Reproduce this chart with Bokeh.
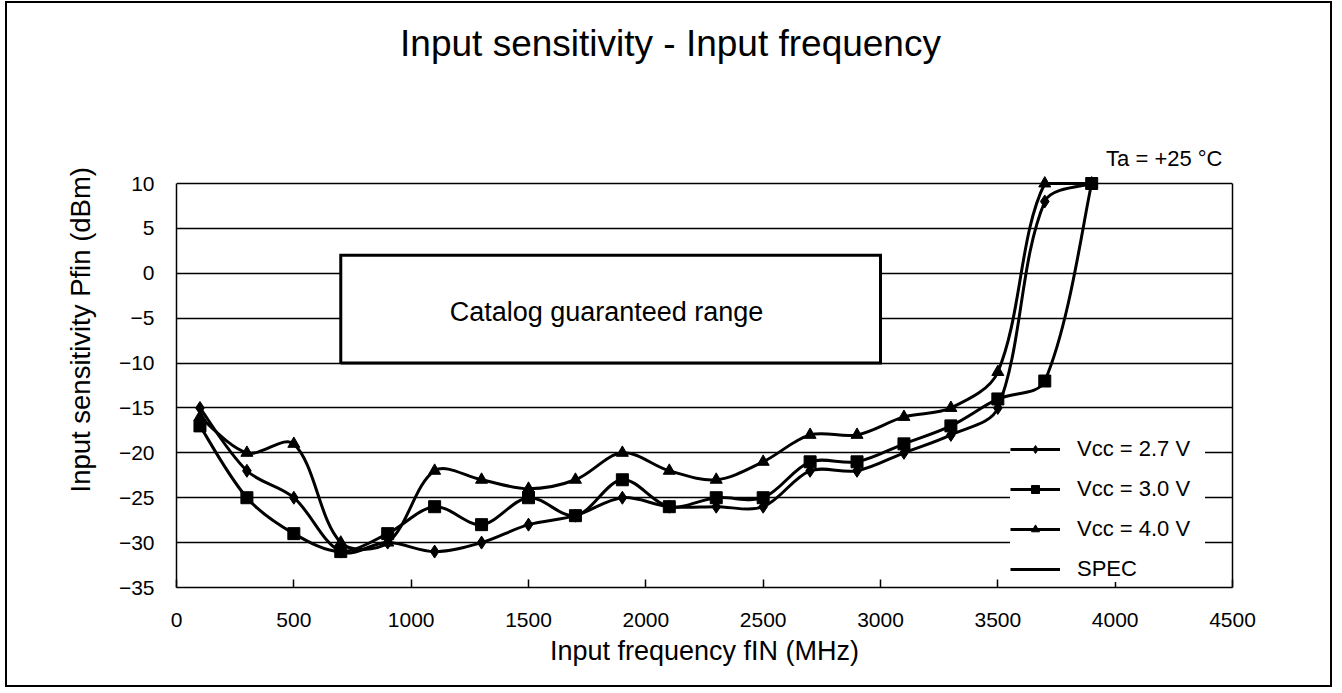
import numpy as np
from bokeh.plotting import figure
from bokeh.models import (ColumnDataSource, Label, Legend, LegendItem, FixedTicker, Range1d,
                          Title, LinearAxis)
from bokeh.embed import file_html
from bokeh.resources import INLINE

# ---------------- data ----------------
freq = [100, 300, 500, 700, 900, 1100, 1300, 1500, 1700, 1900,
        2100, 2300, 2500, 2700, 2900, 3100, 3300, 3500, 3700, 3900]
vcc27 = [-15, -22, -25, -31, -30, -31, -30, -28, -27, -25,
         -26, -26, -26, -22, -22, -20, -18, -15, 8, 10]
vcc30 = [-17, -25, -29, -31, -29, -26, -28, -25, -27, -23,
         -26, -25, -25, -21, -21, -19, -17, -14, -12, 10]
vcc40 = [-16, -20, -19, -30, -30, -22, -23, -24, -23, -20,
         -22, -23, -21, -18, -18, -16, -15, -11, 10, 10]
spec_freq = [700, 3000]
spec_pfin = [-10, 2]
x_ticks = [0, 500, 1000, 1500, 2000, 2500, 3000, 3500, 4000, 4500]
y_ticks = [-35, -30, -25, -20, -15, -10, -5, 0, 5, 10]
series_labels = ["Vcc = 2.7 V", "Vcc = 3.0 V", "Vcc = 4.0 V", "SPEC"]

FONT = "Liberation Sans"
X_MIN, X_MAX = x_ticks[0], x_ticks[-1]
Y_MIN, Y_MAX = y_ticks[0], y_ticks[-1]

# layout geometry (page pixels)
CANVAS_LEFT, CANVAS_TOP = 7, 3
PLOT_LEFT, PLOT_RIGHT = 176.0, 1232.0   # x = 0 .. 4500
PLOT_TOP, PLOT_BOTTOM = 183.0, 587.0    # y = 10 .. -35
SX = (PLOT_RIGHT - PLOT_LEFT) / (X_MAX - X_MIN)
SY = (PLOT_BOTTOM - PLOT_TOP) / (Y_MAX - Y_MIN)
# the frame reaches the canvas top so titles above the grid can be drawn as labels
Y_TOP = Y_MAX + (PLOT_TOP - CANVAS_TOP) / SY

def dx(px):
    return X_MIN + (px - PLOT_LEFT) / SX
def dy(py):
    return Y_MAX + (PLOT_TOP - py) / SY

p = figure(width=1327, height=686, output_backend="svg", toolbar_location=None,
           x_range=Range1d(X_MIN, X_MAX), y_range=Range1d(Y_MIN, Y_TOP),
           min_border_left=int(PLOT_LEFT - CANVAS_LEFT), min_border_right=102,
           min_border_top=0, min_border_bottom=102)
p.title.visible = False
p.styles = {"border": "2px solid black", "margin-left": "5px", "margin-top": "1px"}
p.background_fill_color = "white"
p.border_fill_color = "white"
p.outline_line_color = None

# axes
for ax in (p.xaxis[0], p.yaxis[0]):
    ax.axis_line_color = "black"
    ax.axis_line_width = 1.5
    ax.major_tick_line_color = "black"
    ax.major_tick_line_width = 1.5
    ax.minor_tick_line_color = None
    ax.major_label_text_font = FONT
    ax.major_label_text_font_size = "21px"
    ax.major_label_text_color = "black"
    ax.major_tick_out = 0

p.xaxis.ticker = FixedTicker(ticks=x_ticks)
p.xaxis.major_tick_in = 8
p.xaxis.major_label_standoff = 25
p.xaxis.axis_label = "Input frequency fIN (MHz)"
p.xaxis.axis_label_text_font = FONT
p.xaxis.axis_label_text_font_size = "27px"
p.xaxis.axis_label_text_font_style = "normal"
p.xaxis.axis_label_text_color = "black"
p.xaxis.axis_label_standoff = 6

p.yaxis.ticker = FixedTicker(ticks=y_ticks)
p.yaxis.bounds = (Y_MIN, Y_MAX)
p.yaxis.major_tick_in = 0
p.yaxis.major_label_standoff = 22
p.yaxis.major_label_overrides = {t: ("\u2212" + str(abs(t)) if t < 0 else str(t)) for t in y_ticks}

# right frame edge
rax = LinearAxis(bounds=(Y_MIN, Y_MAX), ticker=FixedTicker(ticks=[]),
                 axis_line_color="black", axis_line_width=1.5,
                 major_tick_line_color=None, minor_tick_line_color=None,
                 major_label_text_font_size="0px")
p.add_layout(rax, "right")

p.xgrid.grid_line_color = None
p.ygrid.ticker = FixedTicker(ticks=y_ticks)
p.ygrid.grid_line_color = "black"
p.ygrid.grid_line_width = 1.3

# spec box (white fill hides grid) + outline
p.quad(left=[spec_freq[0]], right=[spec_freq[1]], bottom=[spec_pfin[0]], top=[spec_pfin[1]],
       fill_color="white", line_color=None)
spec_x = [spec_freq[0], spec_freq[1], spec_freq[1], spec_freq[0], spec_freq[0]]
spec_y = [spec_pfin[0], spec_pfin[0], spec_pfin[1], spec_pfin[1], spec_pfin[0]]
spec_r = p.line(x=spec_x, y=spec_y, line_color="black", line_width=3, line_join="miter")


def bezier_source(xs, ys):
    """Smoothed-line control points (chart-style spline), computed in pixel space,
    kept inside the plotted value range."""
    X = np.asarray(xs, float) * SX
    Y = np.asarray(ys, float) * SY
    n = len(X)
    P = np.stack([X, Y], axis=1)
    d = np.hypot(np.diff(X), np.diff(Y))
    T = np.zeros_like(P)
    for i in range(n):
        T[i] = P[min(i + 1, n - 1)] - P[max(i - 1, 0)]
    out = dict(x0=[], y0=[], x1=[], y1=[], cx0=[], cy0=[], cx1=[], cy1=[])
    for i in range(n - 1):
        f0 = 1.0 / 6.0 if i == 0 else d[i] / (d[i - 1] + d[i]) / 3.0
        f1 = 1.0 / 6.0 if i + 1 == n - 1 else d[i] / (d[i] + d[i + 1]) / 3.0
        c0 = P[i] + T[i] * f0
        c1 = P[i + 1] - T[i + 1] * f1
        out["x0"].append(P[i][0] / SX); out["y0"].append(P[i][1] / SY)
        out["x1"].append(P[i + 1][0] / SX); out["y1"].append(P[i + 1][1] / SY)
        out["cx0"].append(c0[0] / SX); out["cy0"].append(min(max(c0[1] / SY, Y_MIN), Y_MAX))
        out["cx1"].append(c1[0] / SX); out["cy1"].append(min(max(c1[1] / SY, Y_MIN), Y_MAX))
    return ColumnDataSource(out)

items = []
markers = [("diamond", 13), ("square", 12), ("triangle", 12)]
for vals, lab, (mk, sz) in zip([vcc27, vcc30, vcc40], series_labels[:3], markers):
    br = p.bezier(x0="x0", y0="y0", x1="x1", y1="y1", cx0="cx0", cy0="cy0", cx1="cx1", cy1="cy1",
                  source=bezier_source(freq, vals), line_color="black", line_width=3)
    sr = p.scatter(x=freq, y=vals, marker=mk, size=sz,
                   fill_color="black", line_color="black")
    items.append(LegendItem(label=lab, renderers=[br, sr]))
items.append(LegendItem(label=series_labels[3], renderers=[spec_r]))

legend = Legend(items=items, location=(834, 5), orientation="vertical",
                background_fill_color="white", background_fill_alpha=1.0,
                border_line_color=None, padding=4, margin=0, spacing=14,
                glyph_width=50, glyph_height=20, label_height=20, label_standoff=17,
                label_width=128,
                label_text_font=FONT, label_text_font_size="22px", label_text_color="black")
p.add_layout(legend, "center")

def add_label(text, px, py, size, align="center", baseline="middle"):
    p.add_layout(Label(x=dx(px), y=dy(py), text=text, text_font=FONT, text_font_size=size,
                       text_color="black", text_align=align, text_baseline=baseline))

add_label("Catalog guaranteed range", 606, 311, "27px")
add_label("Input sensitivity - Input frequency", 670, 43, "37px")
add_label("Ta = +25 \u00b0C", 1222, 158, "22px", align="right")

ylab = Title(text="Input sensitivity Pfin (dBm)", align="left", offset=95, standoff=40,
             text_font=FONT, text_font_size="27.5px", text_font_style="normal", text_color="black")
p.add_layout(ylab, "left")

open("out.html", "w").write(file_html(p, INLINE))
